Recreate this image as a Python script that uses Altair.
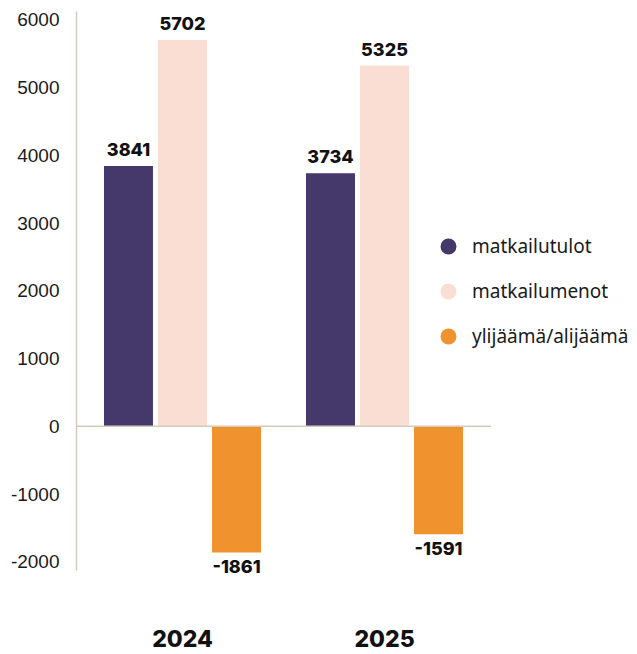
import altair as alt
import pandas as pd

years = ["2024", "2025"]
series = ["matkailutulot", "matkailumenot", "ylijäämä/alijäämä"]
values_2024 = [3841, 5702, -1861]
values_2025 = [3734, 5325, -1591]
colors = ["#45386b", "#fbded3", "#f0922e"]
y_ticks = [-2000, -1000, 0, 1000, 2000, 3000, 4000, 5000, 6000]

rows = []
for yr, vals in zip(years, [values_2024, values_2025]):
    for i, (s, v) in enumerate(zip(series, vals)):
        rows.append({"year": yr, "series": s, "order": i, "value": v,
                     "label": str(v)})
df = pd.DataFrame(rows)

x_enc = alt.X("year:N", sort=years, title=None,
              scale=alt.Scale(paddingInner=0, paddingOuter=0.0272),
              axis=alt.Axis(labelAngle=0, domain=False, ticks=False, tickSize=0,
                            labelPadding=58, labelFontSize=23, labelFont="Inter",
                            labelFontWeight=800, labelColor="#111111"))
xoff = alt.XOffset("series:N", sort=series,
                   scale=alt.Scale(paddingInner=0.0926, paddingOuter=0.416))
y_scale = alt.Scale(domain=[-2120, 6130], nice=False, zero=False)

bars = alt.Chart(df).mark_bar(size=49).encode(
    x=x_enc,
    xOffset=xoff,
    y=alt.Y("value:Q", scale=y_scale, title=None,
            axis=alt.Axis(values=y_ticks, grid=False, ticks=False, tickSize=0,
                          labelExpr="'' + datum.value",
                          domainColor="#d3cbbd", domainWidth=1.5,
                          labelFontSize=19, labelFont="Liberation Sans",
                          labelColor="#1a1a1a", labelPadding=17)),
    color=alt.Color("series:N", sort=series,
                    scale=alt.Scale(domain=series, range=colors),
                    legend=alt.Legend(title=None, orient="none", legendX=363, legendY=226,
                                      symbolType="circle", symbolSize=254,
                                      symbolStrokeWidth=0, symbolOpacity=1,
                                      labelFontSize=19, labelFont="Noto Sans",
                                      labelColor="#1a1a1a", labelOffset=14,
                                      labelLimit=400, rowPadding=25)),
)

zero = alt.Chart(pd.DataFrame({"v": [0]})).mark_rule(color="#d3cbbd", strokeWidth=1.5).encode(
    y=alt.Y("v:Q", scale=y_scale)
)

text_top = alt.Chart(df).transform_filter("datum.value >= 0").mark_text(
    baseline="bottom", dy=-6, fontSize=18, font="Inter", fontWeight=800, color="#111111"
).encode(x=x_enc, xOffset=xoff, y=alt.Y("value:Q", scale=y_scale), text="label:N")

text_bot = alt.Chart(df).transform_filter("datum.value < 0").mark_text(
    baseline="top", dy=7, fontSize=18, font="Inter", fontWeight=800, color="#111111"
).encode(x=x_enc, xOffset=xoff, y=alt.Y("value:Q", scale=y_scale), text="label:N")

chart = alt.layer(bars, zero, text_top, text_bot).properties(
    width=415, height=559,
    padding={"left": 2, "top": 2, "right": 0, "bottom": 0},
).configure(background="white").configure_view(strokeWidth=0, stroke=None)

chart.save("out.html", embed_options={"renderer": "svg", "actions": False})
